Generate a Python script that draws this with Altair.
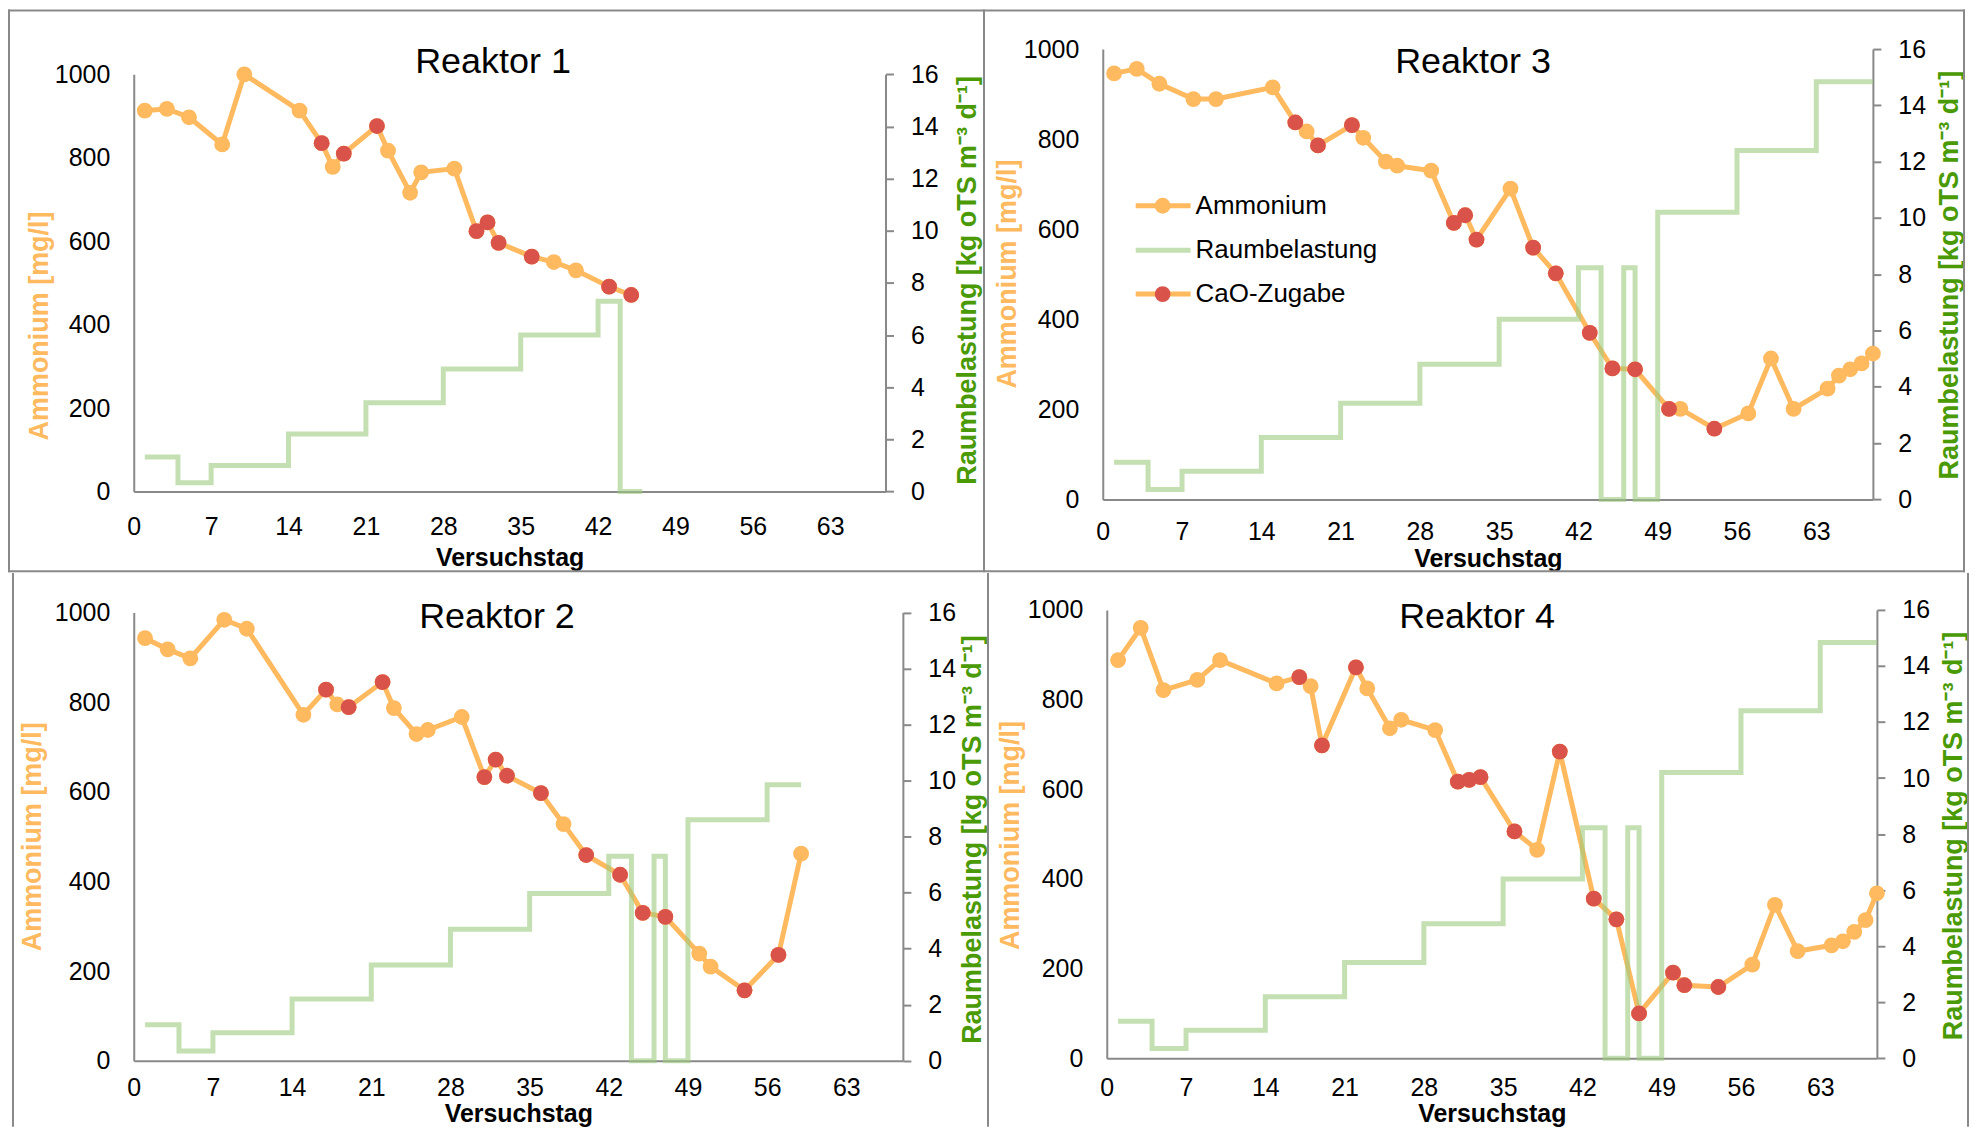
import altair as alt
import pandas as pd

# ---------------- data ----------------
# Reaktor 1
r1_tag = [1, 3, 5, 8, 10, 15, 17, 18, 19, 22, 23, 25, 26, 29, 31, 32, 33, 36, 38, 40, 43, 45]
r1_nh4 = [913, 917, 897, 832, 1000, 913, 835, 778, 810, 876, 817, 716, 765, 774, 624, 645, 596, 563, 550, 530, 491, 471]
r1_cao = [0, 0, 0, 0, 0, 0, 1, 0, 1, 1, 0, 0, 0, 0, 1, 1, 1, 1, 0, 0, 1, 1]
r1_rb_tag = [1, 4, 7, 14, 21, 28, 35, 42, 44, 46]
r1_rb = [1.32, 0.33, 1.0, 2.2, 3.4, 4.7, 6.0, 7.3, 0, 0]

# Reaktor 2
r2_tag = [1, 3, 5, 8, 10, 15, 17, 18, 19, 22, 23, 25, 26, 29, 31, 32, 33, 36, 38, 40, 43, 45, 47, 50, 51, 54, 57, 59]
r2_nh4 = [943, 918, 898, 984, 964, 772, 828, 795, 789, 845, 787, 729, 738, 767, 633, 672, 636, 597, 528, 459, 415, 330, 321, 239, 210, 157, 236, 462]
r2_cao = [0, 0, 0, 0, 0, 0, 1, 0, 1, 1, 0, 0, 0, 0, 1, 1, 1, 1, 0, 1, 1, 1, 1, 0, 0, 1, 1, 0]
r2_rb_tag = [1, 4, 7, 14, 21, 28, 35, 42, 44, 46, 47, 49, 56, 59]
r2_rb = [1.28, 0.35, 1.0, 2.2, 3.42, 4.69, 5.97, 7.3, 0, 7.3, 0, 8.6, 9.85, 9.85]

# Reaktor 3
r3_tag = [1, 3, 5, 8, 10, 15, 17, 18, 19, 22, 23, 25, 26, 29, 31, 32, 33, 36, 38, 40, 43, 45, 47, 50, 51, 54, 57, 59, 61, 64, 65, 66, 67, 68]
r3_nh4 = [946, 956, 923, 889, 889, 915, 837, 817, 786, 831, 803, 750, 741, 730, 614, 631, 577, 690, 559, 502, 370, 291, 289, 201, 201, 157, 191, 313, 201, 246, 275, 289, 302, 324]
r3_cao = [0, 0, 0, 0, 0, 0, 1, 0, 1, 1, 0, 0, 0, 0, 1, 1, 1, 0, 1, 1, 1, 1, 1, 1, 0, 1, 0, 0, 0, 0, 0, 0, 0, 0]
r3_rb_tag = [1, 4, 7, 14, 21, 28, 35, 42, 44, 46, 47, 49, 56, 63, 68]
r3_rb = [1.32, 0.35, 1.0, 2.2, 3.42, 4.8, 6.4, 8.23, 0, 8.23, 0, 10.2, 12.4, 14.84, 14.84]

# Reaktor 4
r4_tag = [1, 3, 5, 8, 10, 15, 17, 18, 19, 22, 23, 25, 26, 29, 31, 32, 33, 36, 38, 40, 43, 45, 47, 50, 51, 54, 57, 59, 61, 64, 65, 66, 67, 68]
r4_nh4 = [888, 960, 821, 844, 888, 836, 850, 830, 698, 872, 825, 736, 755, 732, 617, 621, 627, 506, 465, 684, 356, 310, 100, 191, 163, 159, 209, 342, 239, 252, 261, 282, 308, 368]
r4_cao = [0, 0, 0, 0, 0, 0, 1, 0, 1, 1, 0, 0, 0, 0, 1, 1, 1, 1, 0, 1, 1, 1, 1, 1, 1, 1, 0, 0, 0, 0, 0, 0, 0, 0]
r4_rb_tag = [1, 4, 7, 14, 21, 28, 35, 42, 44, 46, 47, 49, 56, 63, 68]
r4_rb = [1.32, 0.35, 1.0, 2.2, 3.42, 4.8, 6.4, 8.23, 0, 8.23, 0, 10.2, 12.4, 14.84, 14.84]

x_ticks = [0, 7, 14, 21, 28, 35, 42, 49, 56, 63]
y_ticks = [0, 200, 400, 600, 800, 1000]
y2_ticks = [0, 2, 4, 6, 8, 10, 12, 14, 16]

legend_labels = ["Ammonium", "Raumbelastung", "CaO-Zugabe"]

# ---------------- style ----------------
FONT = "Liberation Sans, Arial, sans-serif"
ORANGE = "#FFB95F"
RED = "#D9534A"
GREEN_LINE = "#9CCB7F"
GREEN_TXT = "#4A9A06"
GRAY = "#898989"
LW = 5
MS = 250
one = pd.DataFrame({"k": [0]})


def rect(x1, x2, y1, y2, opacity=1.0):
    return alt.Chart(one).mark_rect(color=GRAY, opacity=opacity).encode(
        x=alt.value(x1), x2=alt.value(x2), y=alt.value(y1), y2=alt.value(y2)
    )


def panel(name, tag, nh4, cao, rb_tag, rb, g):
    df = pd.DataFrame({"Tag": tag, "Ammonium": nh4, "CaO": cao})
    dstep = pd.DataFrame({"Tag": rb_tag, "Raumbelastung": rb})
    yr = g["yrange"]

    def xenc():
        return alt.X(
            "Tag:Q",
            scale=alt.Scale(domain=[0, 68], nice=False, zero=False),
            axis=alt.Axis(
                values=x_ticks, title="Versuchstag", ticks=False, labelPadding=g["xlp"],
                titleFontSize=25, titleFontWeight="bold", titleColor="#000",
                titleBaseline="alphabetic", titleY=g["xtitleY"], format="d",
            ),
        )

    yscale = alt.Scale(domain=[0, 1000], range=yr, nice=False, zero=True)
    y2scale = alt.Scale(domain=[0, 16], range=yr, nice=False, zero=True)

    amm_line = alt.Chart(df).mark_line(color=ORANGE, strokeWidth=LW).encode(
        x=xenc(),
        y=alt.Y(
            "Ammonium:Q", scale=yscale,
            axis=alt.Axis(
                orient="left", values=y_ticks, title="Ammonium [mg/l]", ticks=False,
                labelPadding=24, format="d", titleAngle=270, titleAlign="center",
                titleBaseline="middle", titleX=g["ltx"], titleY=g["lty"],
                titleColor=ORANGE, titleFontSize=27, titleFontWeight="bold",
            ),
        ),
    )
    step = alt.Chart(dstep).mark_line(
        interpolate="step-after", color=GREEN_LINE, strokeWidth=LW, opacity=0.6
    ).encode(
        x=xenc(),
        y=alt.Y(
            "Raumbelastung:Q", scale=y2scale,
            axis=alt.Axis(
                orient="right", values=y2_ticks, title="Raumbelastung [kg oTS m\u207b\u00b3 d\u207b\u00b9]",
                ticks=True, tickSize=8, labelPadding=17, format="d", titleAngle=270,
                titleAlign="center", titleBaseline="middle", titleX=g["rtx"], titleY=g["rty"],
                titleColor=GREEN_TXT, titleFontSize=27, titleFontWeight="bold",
            ),
        ),
    )
    pts = alt.Chart(df).mark_circle(color=ORANGE, size=MS, opacity=1).encode(
        x=xenc(), y=alt.Y("Ammonium:Q", scale=yscale, axis=None)
    )
    red = alt.Chart(df).transform_filter("datum.CaO == 1").mark_circle(
        color=RED, size=MS, opacity=1
    ).encode(x=xenc(), y=alt.Y("Ammonium:Q", scale=yscale, axis=None))

    title = alt.Chart(one).mark_text(
        text=name, font=FONT, fontSize=36, align="center", baseline="alphabetic", color="#000"
    ).encode(x=alt.value(g["tx"]), y=alt.value(g["ty"]))

    ax1, ax2, ay1, ay2 = g["anchor"]
    layers = [rect(ax1, ax2, ay1, ay2, opacity=0), amm_line, step, pts, red, title]
    for r in g["frame"]:
        layers.append(rect(*r))

    if g.get("legend"):
        lx1, lx2, mx, txx = 33, 88, 60, 93
        ys = [157, 201.5, 245.5]
        layers.append(alt.Chart(one).mark_rule(color=ORANGE, strokeWidth=LW).encode(
            x=alt.value(lx1), x2=alt.value(lx2), y=alt.value(ys[0])))
        layers.append(alt.Chart(one).mark_circle(color=ORANGE, size=MS, opacity=1).encode(
            x=alt.value(mx), y=alt.value(ys[0])))
        layers.append(alt.Chart(one).mark_rule(color=GREEN_LINE, strokeWidth=LW, opacity=0.6).encode(
            x=alt.value(lx1), x2=alt.value(lx2), y=alt.value(ys[1])))
        layers.append(alt.Chart(one).mark_rule(color=ORANGE, strokeWidth=LW).encode(
            x=alt.value(lx1), x2=alt.value(lx2), y=alt.value(ys[2])))
        layers.append(alt.Chart(one).mark_circle(color=RED, size=MS, opacity=1).encode(
            x=alt.value(mx), y=alt.value(ys[2])))
        for lab, yy in zip(legend_labels, ys):
            layers.append(alt.Chart(one).mark_text(
                text=lab, font=FONT, fontSize=26, align="left", baseline="middle", color="#000"
            ).encode(x=alt.value(txx), y=alt.value(yy)))

    return alt.layer(*layers).resolve_scale(y="independent").properties(
        width=g["w"], height=g["h"]
    )


g1 = dict(
    w=753.3, h=443.3, yrange=[443.3, 25.3], ltx=-94, lty=277, rtx=81.7, rty=231.3,
    xtitleY=74, xlp=23, tx=360, ty=24,
    anchor=(-126, 851, -39.7, 524.3),
    frame=[(-126, -124, -39.7, 524.3), (-126, 851, -39.7, -37.7), (-126, 851, 522.3, 524.3)],
)
g3 = dict(
    w=771.7, h=451.3, yrange=[451.3, 0], ltx=-95, lty=225, rtx=76.3, rty=226,
    xtitleY=67.5, xlp=20, tx=371, ty=24,
    anchor=(-120, 864, -39.7, 524.3),
    frame=[(-120, -118, -39.7, 524.3), (-120, 864, -39.7, -37.7), (862, 864, -39.7, 524.3),
           (-120, 864, 522.3, 524.3)],
    legend=True,
)
g2 = dict(
    w=770.7, h=451.7, yrange=[451.7, 2.7], ltx=-101.6, lty=226.8, rtx=70, rty=229.6,
    xtitleY=60.5, xlp=15, tx=364, ty=17.8,
    anchor=(-122, 855, -37, 518),
    frame=[(-122, -120, -37, 518)],
)
g4 = dict(
    w=771.7, h=449.3, yrange=[449.3, 0], ltx=-96, lty=225.6, rtx=77, rty=226,
    xtitleY=63, xlp=17, tx=371, ty=18.5,
    anchor=(-120, 864, -37, 518),
    frame=[(-120, -118, -37, 518), (862, 864, -37, 518)],
)

p1 = panel("Reaktor 1", r1_tag, r1_nh4, r1_cao, r1_rb_tag, r1_rb, g1)
p3 = panel("Reaktor 3", r3_tag, r3_nh4, r3_cao, r3_rb_tag, r3_rb, g3)
p2 = panel("Reaktor 2", r2_tag, r2_nh4, r2_cao, r2_rb_tag, r2_rb, g2)
p4 = panel("Reaktor 4", r4_tag, r4_nh4, r4_cao, r4_rb_tag, r4_rb, g4)

row1 = alt.hconcat(p1, p3, spacing=0)
row2 = alt.hconcat(p2, p4, spacing=0)

chart = (
    alt.vconcat(row1, row2, spacing=0)
    .properties(padding=0, background="white")
    .configure_view(stroke=None)
    .configure_axis(
        labelFont=FONT, titleFont=FONT, labelFontSize=25, labelColor="#000", grid=False,
        domainColor=GRAY, domainWidth=2, tickColor=GRAY, tickWidth=2,
        labelFlush=False, labelOverlap=False,
    )
)

chart.save("out.html", embed_options={"renderer": "svg", "actions": False})
